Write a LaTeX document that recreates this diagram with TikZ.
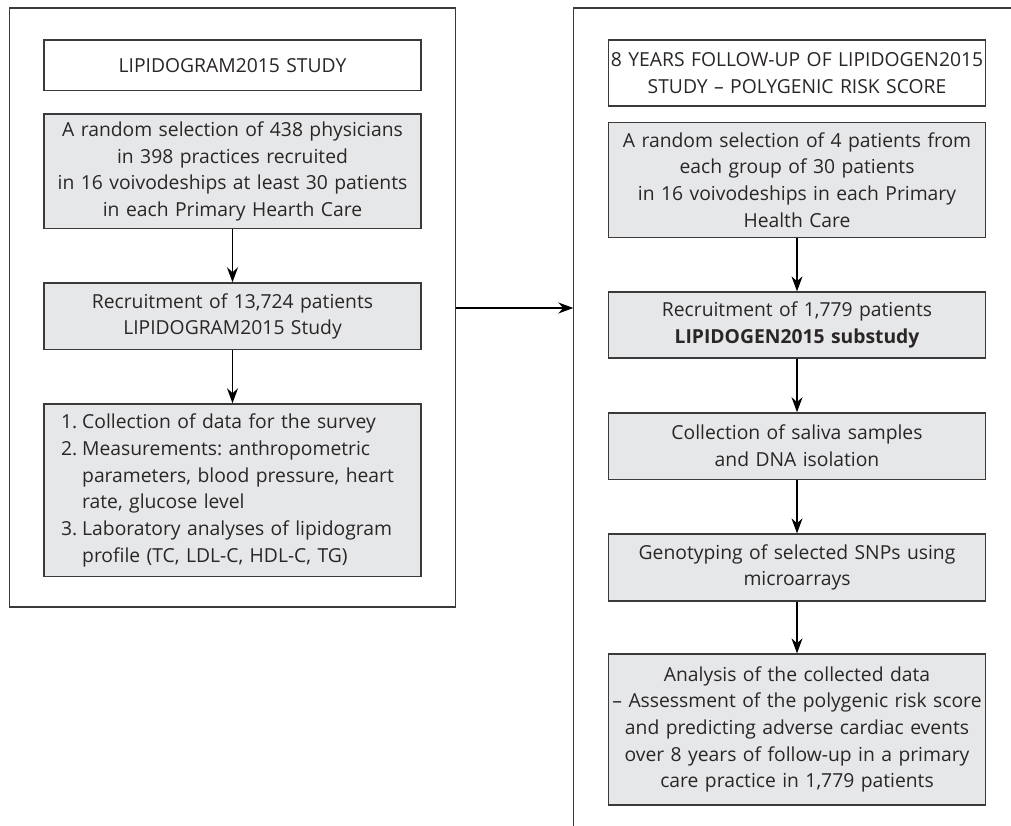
\documentclass[tikz,border=0pt]{standalone}
\usepackage{fontspec}
\setmainfont{Open Sans}
\frenchspacing
\usetikzlibrary{arrows.meta}
\definecolor{boxgray}{HTML}{E6E7E8}
\definecolor{linegray}{HTML}{3A3A3A}
\definecolor{txt}{HTML}{2A2627}
\tikzset{
  frame/.style={draw=linegray, line width=1.3pt},
  whitebox/.style={draw=linegray, line width=1.3pt, fill=white, text=txt, align=center,
    minimum width=377pt, text width=376pt, inner sep=0pt, font=\frenchspacing\fontsize{19.3}{26.7}\selectfont},
  graybox/.style={whitebox, fill=boxgray},
  flow/.style={draw=black, line width=1.2pt, -{Stealth[length=15pt,width=11pt]}}
}
\begin{document}
\begin{tikzpicture}[x=1pt,y=-1pt]
\useasboundingbox (0,0) rectangle (1011,826);
% outer frames
\draw[frame] (9.5,8) rectangle (455.7,607);
\draw[frame] (1015,8) -- (573.3,8) -- (573.3,830);
% left column
\node[whitebox, minimum height=50.7pt] (L1) at (232.5,65.3) {LIPIDOGRAM2015 STUDY};
\node[graybox, minimum height=114.7pt] (L2) at (232.5,171.3) {A random selection of 438 physicians\\ in 398 practices recruited\\ in 16 voivodeships at least 30 patients\\ in each Primary Hearth Care};
\node[graybox, minimum height=66.7pt] (L3) at (232.5,316.3) {Recruitment of 13,724 patients\\ LIPIDOGRAM2015 Study};
\node[graybox, minimum height=172.7pt, align=left, text width=343pt] (L4) at (232.5,490.3) {%
\begin{tabular}{@{}l@{\hspace{5pt}}l@{}}
1. & Collection of data for the survey\\
2. & Measurements: anthropometric\\
   & parameters, blood pressure, heart\\
   & rate, glucose level\\
3. & Laboratory analyses of lipidogram\\
   & profile (TC, LDL-C, HDL-C, TG)
\end{tabular}};
% right column
\node[whitebox, minimum height=66pt] (R1) at (797,73) {8 YEARS FOLLOW-UP OF LIPIDOGEN2015\\ STUDY -- POLYGENIC RISK SCORE};
\node[graybox, minimum height=114.6pt] (R2) at (797,180) {A random selection of 4 patients from\\ each group of 30 patients\\ in 16 voivodeships in each Primary\\ Health Care};
\node[graybox, minimum height=66pt] (R3) at (797,325) {Recruitment of 1,779 patients\\ \textbf{LIPIDOGEN2015 substudy}};
\node[graybox, minimum height=66.3pt] (R4) at (797,446) {Collection of saliva samples\\ and DNA isolation};
\node[graybox, minimum height=67pt] (R5) at (797,567.5) {Genotyping of selected SNPs using\\ microarrays};
\node[graybox, minimum height=151pt] (R6) at (797,729.5) {Analysis of the collected data\\ -- Assessment of the polygenic risk score\\ and predicting adverse cardiac events\\ over 8 years of follow-up in a primary\\ care practice in 1,779 patients};
% connectors
\coordinate (LF) at (455.7,308);
\coordinate (RF) at (573.3,308);
\draw[flow] (L2) -- (L3);
\draw[flow] (L3) -- (L4);
\draw[flow] (LF) -- (RF);
\draw[flow] (R2) -- (R3);
\draw[flow] (R3) -- (R4);
\draw[flow] (R4) -- (R5);
\draw[flow] (R5) -- (R6);
\end{tikzpicture}
\end{document}
